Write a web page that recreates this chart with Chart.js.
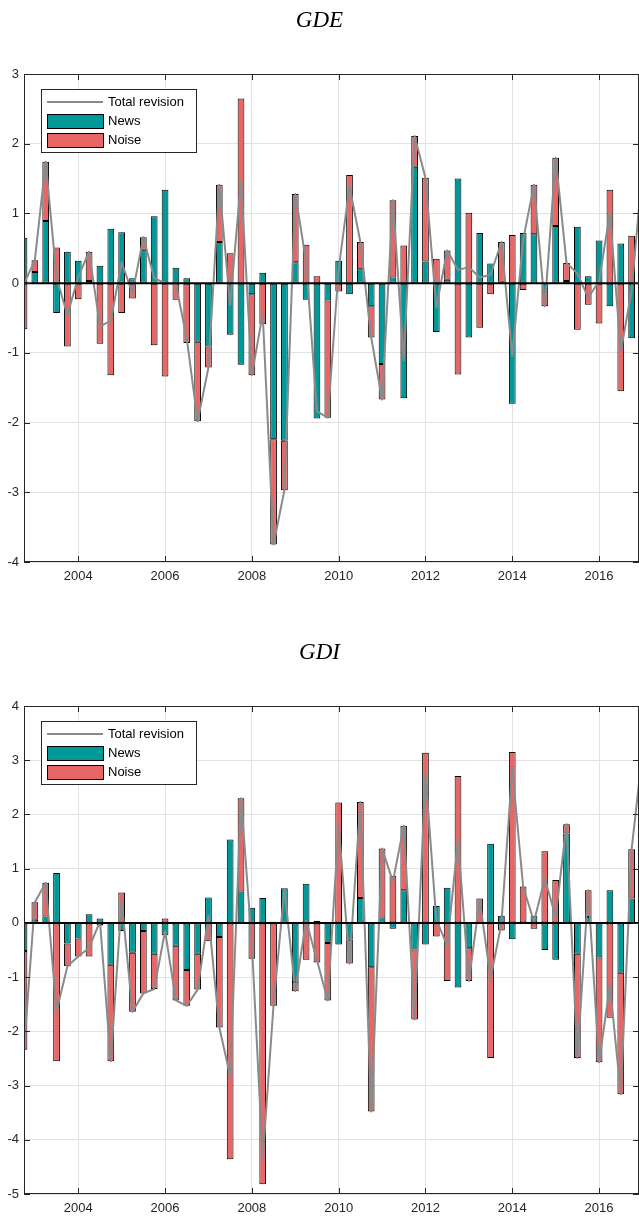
<!DOCTYPE html>
<html>
<head>
<meta charset="utf-8">
<script src="https://cdn.jsdelivr.net/npm/chart.js@4.4.1/dist/chart.umd.min.js"></script>
<style>
  html, body { margin: 0; padding: 0; background: #fff; overflow: hidden; width: 639px; height: 1218px; }
  .panel { position: absolute; left: 0; width: 645px; height: 592px; }
  #gdeBox { top: 0; }
  #gdiBox { top: 632px; }
</style>
</head>
<body>
<div class="panel" id="gdeBox"><canvas id="gdeChart"></canvas></div>
<div class="panel" id="gdiBox"><canvas id="gdiChart"></canvas></div>
<script>
// quarters shown on the x axis (Q1 sits on the year line)
const quarters = [
    '2002Q4',
    '2003Q1', '2003Q2', '2003Q3', '2003Q4',
    '2004Q1', '2004Q2', '2004Q3', '2004Q4',
    '2005Q1', '2005Q2', '2005Q3', '2005Q4',
    '2006Q1', '2006Q2', '2006Q3', '2006Q4',
    '2007Q1', '2007Q2', '2007Q3', '2007Q4',
    '2008Q1', '2008Q2', '2008Q3', '2008Q4',
    '2009Q1', '2009Q2', '2009Q3', '2009Q4',
    '2010Q1', '2010Q2', '2010Q3', '2010Q4',
    '2011Q1', '2011Q2', '2011Q3', '2011Q4',
    '2012Q1', '2012Q2', '2012Q3', '2012Q4',
    '2013Q1', '2013Q2', '2013Q3', '2013Q4',
    '2014Q1', '2014Q2', '2014Q3', '2014Q4',
    '2015Q1', '2015Q2', '2015Q3', '2015Q4',
    '2016Q1', '2016Q2', '2016Q3', '2016Q4',
    '2017Q1'
];
const yearTicks = [2004, 2006, 2008, 2010, 2012, 2014, 2016];

// GDE
const gdeNews = [0.65, 0.16, 0.89, -0.43, 0.45, 0.32, 0.03, 0.25, 0.78, 0.73, 0.07, 0.48, 0.96, 1.34, 0.22,
    0.07, -0.84, -0.91, 0.59, -0.74, -1.17, -0.16, 0.15, -2.24, -2.26, 0.30, -0.24, -1.94, -0.25,
    0.32, -0.16, 0.20, -0.33, -1.16, 0.08, -1.65, 1.67, 0.31, -0.70, 0.05, 1.50, -0.78, 0.72,
    0.28, 0.02, -1.73, 0.72, 0.70, -0.11, 0.82, 0.03, 0.81, 0.10, 0.61, -0.33, 0.57, -0.79, 1.00];
const gdeNoise = [-0.66, 0.17, 0.85, 0.51, -0.91, -0.23, 0.42, -0.87, -1.32, -0.43, -0.22, 0.18, -0.89, -1.34, -0.24,
    -0.86, -1.14, -0.30, 0.82, 0.43, 2.65, -1.16, -0.59, -1.51, -0.71, 0.98, 0.55, 0.10, -1.68,
    -0.12, 1.55, 0.39, -0.45, -0.51, 1.11, 0.54, 0.44, 1.20, 0.35, 0.42, -1.31, 1.01, -0.64,
    -0.16, 0.57, 0.69, -0.10, 0.71, -0.22, 0.98, 0.26, -0.67, -0.31, -0.58, 1.34, -1.55, 0.68, 0.65];
const gdeTotal = [-0.01, 0.33, 1.74, 0.08, -0.46, 0.09, 0.45, -0.62, -0.54, 0.30, -0.15, 0.66, 0.07, 0.00, -0.02,
    -0.79, -1.98, -1.21, 1.41, -0.31, 1.48, -1.32, -0.44, -3.75, -2.97, 1.28, 0.31, -1.84, -1.93,
    0.20, 1.39, 0.59, -0.78, -1.67, 1.19, -1.11, 2.11, 1.51, -0.35, 0.47, 0.19, 0.23, 0.08,
    0.12, 0.59, -1.04, 0.62, 1.41, -0.33, 1.80, 0.29, 0.14, -0.21, 0.03, 1.01, -0.98, -0.11, 1.65];

// GDI
const gdiNews = [-0.52, 0.06, 0.12, 0.92, -0.38, -0.29, 0.16, 0.08, -0.77, -0.15, -0.55, -0.15, -0.57, -0.23, -0.42,
    -0.87, -0.57, 0.47, -0.26, 1.54, 0.58, 0.28, 0.46, 0.02, 0.64, -1.09, 0.72, 0.04, -0.37,
    -0.40, -0.31, 0.46, -0.82, 0.10, -0.11, 0.60, -0.49, -0.40, 0.31, 0.65, -1.19, -0.47, -0.02,
    1.46, 0.13, -0.30, 0.00, 0.13, -0.50, -0.68, 1.65, -0.57, 0.11, -0.64, 0.60, -0.92, 0.45, 1.00];
const gdiNoise = [-1.82, 0.32, 0.62, -2.55, -0.42, -0.33, -0.62, -0.05, -1.78, 0.56, -1.09, -1.15, -0.65, 0.08, -1.01,
    -0.66, -0.66, -0.34, -1.67, -4.36, 1.72, -0.66, -4.82, -1.53, -0.01, -0.17, -0.68, -0.73, -1.06,
    2.22, -0.44, 1.77, -2.66, 1.27, 0.87, 1.19, -1.29, 3.14, -0.25, -1.07, 2.71, -0.60, 0.45,
    -2.49, -0.14, 3.15, 0.67, -0.11, 1.32, 0.79, 0.17, -1.92, 0.49, -1.93, -1.75, -2.24, 0.91, 2.15];
const gdiTotal = [-2.34, 0.38, 0.74, -1.63, -0.80, -0.62, -0.46, 0.03, -2.55, 0.41, -1.64, -1.30, -1.22, -0.15, -1.43,
    -1.53, -1.23, 0.13, -1.93, -2.82, 2.30, -0.38, -4.36, -1.51, 0.63, -1.26, 0.04, -0.69, -1.43,
    1.82, -0.75, 2.23, -3.48, 1.37, 0.76, 1.79, -1.78, 2.74, 0.06, -0.42, 1.52, -1.07, 0.43,
    -1.03, -0.01, 2.85, 0.67, 0.02, 0.82, 0.11, 1.82, -2.49, 0.60, -2.57, -1.15, -3.16, 1.36, 3.15];

const quarterX = quarters.map(q => Number(q.slice(0, 4)) + (Number(q.slice(5)) - 1) / 4);
const toPoints = vals => quarterX.map((x, i) => ({ x: x, y: vals[i] }));

const newsColor = '#009999';
const noiseColor = '#E86666';
const lineColor = '#8a8a8a';
const axisColor = '#262626';
const sansFont = "'Liberation Sans', Arial, sans-serif";

// box, inward ticks, zero line and legend like the matlab figure
const frameAndLegend = {
    id: 'frameAndLegend',
    afterDatasetsDraw(chart) {
        const { ctx, chartArea: a, scales: { x, y } } = chart;
        ctx.save();

        // zero line
        const y0 = y.getPixelForValue(0);
        ctx.strokeStyle = '#000';
        ctx.lineWidth = 2;
        ctx.beginPath();
        ctx.moveTo(a.left, y0);
        ctx.lineTo(a.right, y0);
        ctx.stroke();

        ctx.strokeStyle = axisColor;
        ctx.lineWidth = 1;
        ctx.beginPath();
        yearTicks.forEach(v => {
            const px = Math.round(x.getPixelForValue(v)) + 0.5;
            ctx.moveTo(px, a.top); ctx.lineTo(px, a.top + 6);
            ctx.moveTo(px, a.bottom); ctx.lineTo(px, a.bottom - 6);
        });
        y.ticks.forEach(t => {
            const py = Math.round(y.getPixelForValue(t.value)) + 0.5;
            ctx.moveTo(a.left, py); ctx.lineTo(a.left + 6, py);
            ctx.moveTo(a.right, py); ctx.lineTo(a.right - 6, py);
        });
        ctx.stroke();
        ctx.strokeRect(a.left + 0.5, a.top + 0.5, a.right - a.left - 1, a.bottom - a.top - 1);

        // legend
        const lx = a.left + 17, ly = a.top + 15, lw = 155, lh = 63;
        ctx.fillStyle = '#fff';
        ctx.fillRect(lx, ly, lw, lh);
        ctx.strokeStyle = axisColor;
        ctx.strokeRect(lx + 0.5, ly + 0.5, lw, lh);

        const sx = lx + 6, sw = 56;
        const rows = [ly + 13, ly + 32, ly + 51];
        const ds = chart.data.datasets;

        ctx.strokeStyle = lineColor;
        ctx.lineWidth = 2;
        ctx.beginPath();
        ctx.moveTo(sx, rows[0]);
        ctx.lineTo(sx + sw, rows[0]);
        ctx.stroke();

        ctx.lineWidth = 1;
        [ds[1], ds[2]].forEach((d, i) => {
            ctx.fillStyle = d.backgroundColor;
            ctx.fillRect(sx, rows[i + 1] - 7, sw, 14);
            ctx.strokeStyle = '#000';
            ctx.strokeRect(sx + 0.5, rows[i + 1] - 6.5, sw, 14);
        });

        ctx.fillStyle = '#000';
        ctx.font = '13px ' + sansFont;
        ctx.textBaseline = 'middle';
        ctx.textAlign = 'left';
        ds.forEach((d, i) => ctx.fillText(d.label, sx + sw + 5, rows[i] + 0.5));

        ctx.restore();
    }
};

function makeChart(canvasId, titleText, news, noise, total, yMin, yMax) {
    return new Chart(document.getElementById(canvasId), {
        type: 'bar',
        data: {
            datasets: [
                {
                    type: 'line',
                    label: 'Total revision',
                    data: toPoints(total),
                    borderColor: lineColor,
                    borderWidth: 2,
                    borderJoinStyle: 'round',
                    pointRadius: 0,
                    tension: 0,
                    order: 0,
                    stack: 'total',
                    clip: 0,
                },
                {
                    label: 'News',
                    data: toPoints(news),
                    backgroundColor: newsColor,
                    borderColor: '#000',
                    borderWidth: 1,
                    borderSkipped: false,
                    order: 1,
                    clip: 0,
                },
                {
                    label: 'Noise',
                    data: toPoints(noise),
                    backgroundColor: noiseColor,
                    borderColor: '#000',
                    borderWidth: 1,
                    borderSkipped: false,
                    order: 1,
                    clip: 0,
                },
            ]
        },
        options: {
            responsive: true,
            maintainAspectRatio: false,
            animation: false,
            barPercentage: 0.62,
            categoryPercentage: 1,
            layout: { padding: { left: 0, right: 6, top: 0, bottom: 0 } },
            plugins: {
                legend: { display: false },
                tooltip: { enabled: false },
                title: {
                    display: true,
                    text: titleText,
                    color: '#000',
                    font: { family: "'Liberation Serif', 'DejaVu Serif', serif", style: 'italic', size: 23, weight: 'normal', lineHeight: 1 },
                    padding: { top: 9, bottom: 42 },
                },
            },
            scales: {
                x: {
                    type: 'linear',
                    offset: false,
                    min: 2002.75,
                    max: 2016.92,
                    stacked: true,
                    afterBuildTicks: s => { s.ticks = yearTicks.map(v => ({ value: v })); },
                    afterFit: s => { s.height = 30; },
                    grid: { color: '#e2e2e2', drawTicks: false, offset: false },
                    border: { display: false },
                    ticks: {
                        padding: 7,
                        color: axisColor,
                        font: { family: sansFont, size: 13 },
                        callback: v => String(v),
                    },
                },
                y: {
                    stacked: true,
                    min: yMin,
                    max: yMax,
                    afterFit: s => { s.width = 24; },
                    grid: { color: '#e2e2e2', drawTicks: false },
                    border: { display: false },
                    ticks: {
                        stepSize: 1,
                        padding: 5,
                        color: axisColor,
                        font: { family: sansFont, size: 13 },
                    },
                },
            },
        },
        plugins: [frameAndLegend],
    });
}

makeChart('gdeChart', 'GDE', gdeNews, gdeNoise, gdeTotal, -4, 3);
makeChart('gdiChart', 'GDI', gdiNews, gdiNoise, gdiTotal, -5, 4);
</script>
</body>
</html>
